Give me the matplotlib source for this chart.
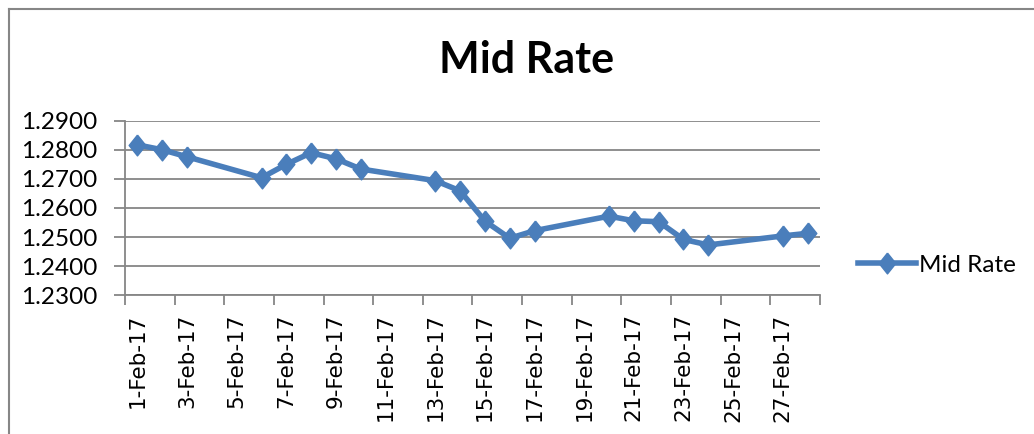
import matplotlib.pyplot as plt
from matplotlib.lines import Line2D

# dias de febrero 2017 con cotizacion (dias habiles)
dias = [1, 2, 3, 6, 7, 8, 9, 10, 13, 14, 15, 16, 17, 20, 21, 22, 23, 24, 27, 28]
mid_rate = [1.2817, 1.2800, 1.2776, 1.2704, 1.2750, 1.2790, 1.2769, 1.2734,
            1.2694, 1.2659, 1.2555, 1.2496, 1.2522, 1.2572, 1.2556, 1.2553,
            1.2492, 1.2473, 1.2504, 1.2513]
etiquetas_dias = list(range(1, 28, 2))
etiquetas = ["%d-Feb-17" % d for d in etiquetas_dias]
y_ticks = [1.23, 1.24, 1.25, 1.26, 1.27, 1.28, 1.29]

plt.rcParams['font.family'] = ['Lato', 'DejaVu Sans']
gris = '#868686'
azul = '#4A7EBB'
rombo = [(0, 1), (0.8, 0), (0, -1), (-0.8, 0), (0, 1)]

fig = plt.figure(figsize=(10.34, 4.34), dpi=100)
W, H = 1034, 434
ax = fig.add_axes([125 / W, 1 - 295.3 / H, (820 - 125) / W, (295.3 - 120.7) / H])

ax.plot(dias, mid_rate, color=azul, lw=4, marker=rombo, ms=15,
        markerfacecolor=azul, markeredgecolor=azul, label='Mid Rate')

ax.set_xlim(0.5, 28.5)
ax.set_ylim(1.23, 1.29)
ax.set_yticks(y_ticks)
ax.set_yticklabels(["%.4f" % v for v in y_ticks])
ax.yaxis.grid(True, color=gris, lw=1.3)
ax.set_axisbelow(True)

# marcas entre dias, etiquetas centradas en el dia
ax.set_xticks([d - 0.5 for d in range(1, 30, 2)])
ax.set_xticklabels([])
ax.set_xticks(etiquetas_dias, minor=True)
ax.set_xticklabels(etiquetas, minor=True, rotation=90, family='DejaVu Sans')
ax.tick_params(axis='x', which='major', length=7, width=1.3, color=gris, direction='out')
ax.tick_params(axis='x', which='minor', length=0, pad=13, labelsize=15.5)
ax.tick_params(axis='y', length=8, width=1.3, color=gris, direction='out', pad=12, labelsize=17.5)

for lado in ['top', 'right']:
    ax.spines[lado].set_visible(False)
for lado in ['left', 'bottom']:
    ax.spines[lado].set_color(gris)
    ax.spines[lado].set_linewidth(1.3)

fig.text(527 / W, 1 - 60 / H, "Mid Rate", ha='center', va='center',
         fontsize=31, fontweight='bold')

ax.legend(loc='center left', bbox_to_anchor=(858 / W, 1 - 265 / H),
          bbox_transform=fig.transFigure, frameon=False, borderpad=0,
          borderaxespad=0, handlelength=2.4, handletextpad=0.1, fontsize=17.5)

# borde del area del grafico
fig.add_artist(Line2D([9 / W, 9 / W], [0, 1 - 9 / H], color=gris, lw=1.5,
                      transform=fig.transFigure))
fig.add_artist(Line2D([9 / W, 1], [1 - 9 / H, 1 - 9 / H], color=gris, lw=1.5,
                      transform=fig.transFigure))

fig.savefig("out.png", dpi=100)
